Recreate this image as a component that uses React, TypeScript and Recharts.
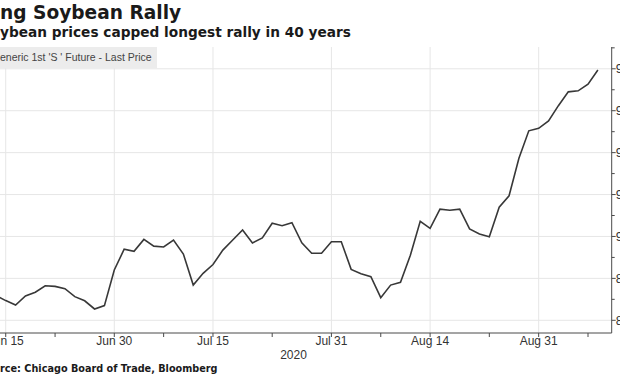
import React from 'react';
import { LineChart, Line, XAxis, YAxis, ReferenceLine } from 'recharts';

// trading days shown (the first one sits just left of the visible frame)
const dates = [
  'Jun 12',
  'Jun 15', 'Jun 16', 'Jun 17', 'Jun 18', 'Jun 19',
  'Jun 22', 'Jun 23', 'Jun 24', 'Jun 25', 'Jun 26',
  'Jun 29', 'Jun 30', 'Jul 1', 'Jul 2',
  'Jul 6', 'Jul 7', 'Jul 8', 'Jul 9', 'Jul 10',
  'Jul 13', 'Jul 14', 'Jul 15', 'Jul 16', 'Jul 17',
  'Jul 20', 'Jul 21', 'Jul 22', 'Jul 23', 'Jul 24',
  'Jul 27', 'Jul 28', 'Jul 29', 'Jul 30', 'Jul 31',
  'Aug 3', 'Aug 4', 'Aug 5', 'Aug 6', 'Aug 7',
  'Aug 10', 'Aug 11', 'Aug 12', 'Aug 13', 'Aug 14',
  'Aug 17', 'Aug 18', 'Aug 19', 'Aug 20', 'Aug 21',
  'Aug 24', 'Aug 25', 'Aug 26', 'Aug 27', 'Aug 28',
  'Aug 31', 'Sep 1', 'Sep 2', 'Sep 3', 'Sep 4',
  'Sep 8', 'Sep 9',
];

// Generic 1st 'S' future, last price (cents/bu)
const prices = [
  871.8,
  869.4, 867.3, 871.6, 873.4, 876.5,
  876.2, 875.1, 871.3, 869.3, 865.4,
  867.0, 884.0, 893.9, 892.9,
  898.6, 895.4, 895.0, 898.3, 891.6,
  876.8, 882.4, 886.6, 893.5, 898.3,
  903.1, 896.9, 899.3, 906.3, 905.1,
  906.6, 897.0, 892.0, 892.0, 897.5,
  897.5, 884.3, 882.2, 880.8, 870.8,
  876.8, 878.1, 891.0, 907.2, 903.9,
  913.0, 912.5, 913.0, 903.6, 901.2,
  899.9, 914.0, 919.4, 937.3, 950.4,
  951.6, 955.1, 962.4, 969.0, 969.5,
  972.7, 979.4,
];

const majorDates = ['Jun 15', 'Jun 30', 'Jul 15', 'Jul 31', 'Aug 14', 'Aug 31'];
const minorDates = ['Jun 22', 'Jul 8', 'Jul 23', 'Aug 7', 'Aug 24', 'Sep 8'];
const priceTicks = [860, 880, 900, 920, 940, 960, 980];
const priceMinorTicks = [870, 890, 910, 930, 950, 970, 990];

const origin = dates.indexOf('Jun 15');
const data = dates.map((d, k) => ({ i: k - origin, date: d, price: prices[k] }));
const idx = (d: string) => dates.indexOf(d) - origin;
const majorIdx = majorDates.map(idx);
const xTicks = [...majorIdx, ...minorDates.map(idx)].sort((a, b) => a - b);

const AXIS = '#4a4a4a';
const GRID = '#e6e6e6';
const LABEL_FONT = '"Liberation Sans", Arial, sans-serif';

function XTick(props: any) {
  const { x, y, payload } = props;
  const k = majorIdx.indexOf(payload.value);
  return (
    <g>
      <line x1={x} x2={x} y1={y} y2={y + 4} stroke={AXIS} />
      {k >= 0 && (
        <text x={x} y={y + 12} textAnchor="middle" fontSize={12} fill="#333" fontFamily={LABEL_FONT}>
          {majorDates[k]}
        </text>
      )}
    </g>
  );
}

function YTick(props: any) {
  const { x, y, payload } = props;
  const major = priceTicks.includes(payload.value);
  return (
    <g>
      <line x1={x} x2={x + (major ? 4 : 3)} y1={y} y2={y} stroke={AXIS} />
      {major && (
        <text x={x + 4} y={y + 4.5} textAnchor="start" fontSize={12.5} fill="#333" fontFamily={LABEL_FONT}>
          {payload.value}
        </text>
      )}
    </g>
  );
}

export default function App() {
  return (
    <div style={{ position: 'fixed', left: 0, top: 0, width: 620, height: 375, overflow: 'hidden', background: '#fff' }}>
      <div style={{ position: 'absolute', left: 0, top: 0 }}>
        <LineChart width={700} height={375} data={data} margin={{ top: 47, right: 0, bottom: 0, left: 0 }}>
          {majorIdx.map((v) => (
            <ReferenceLine key={'vx' + v} x={v} stroke={GRID} strokeWidth={1} />
          ))}
          {priceTicks.map((v) => (
            <ReferenceLine key={'hy' + v} y={v} stroke={GRID} strokeWidth={1} />
          ))}
          <XAxis
            dataKey="i"
            type="number"
            domain={[-0.58, 61.4]}
            allowDataOverflow
            ticks={xTicks}
            interval={0}
            height={42}
            tickSize={0}
            tickMargin={0}
            tickLine={false}
            axisLine={{ stroke: AXIS }}
            tick={<XTick />}
          />
          <YAxis
            orientation="right"
            type="number"
            domain={[853.94, 990.4]}
            allowDataOverflow
            ticks={[...priceTicks, ...priceMinorTicks].sort((a, b) => a - b)}
            interval={0}
            width={88.3}
            tickSize={0}
            tickMargin={0}
            tickLine={false}
            axisLine={{ stroke: AXIS }}
            tick={<YTick />}
          />
          <Line
            type="linear"
            dataKey="price"
            stroke="#383838"
            strokeWidth={1.6}
            dot={false}
            activeDot={false}
            isAnimationActive={false}
          />
        </LineChart>
      </div>
      <div style={{ position: 'absolute', left: 0, top: 4.4, fontFamily: '"DejaVu Sans", sans-serif', fontWeight: 'bold', fontSize: 18.6, lineHeight: 1, color: '#1a1a1a', whiteSpace: 'nowrap' }}>
        ng Soybean Rally
      </div>
      <div style={{ position: 'absolute', left: 0, top: 25.7, fontFamily: '"DejaVu Sans", sans-serif', fontWeight: 'bold', fontSize: 13.7, lineHeight: 1, color: '#1a1a1a', whiteSpace: 'nowrap' }}>
        ybean prices capped longest rally in 40 years
      </div>
      <div style={{ position: 'absolute', left: 0, top: 46.7, width: 156.7, height: 21.6, background: '#ececec' }}>
        <div style={{ position: 'absolute', left: 0, top: 5.4, fontFamily: LABEL_FONT, fontSize: 10.5, lineHeight: 1, color: '#444', whiteSpace: 'nowrap' }}>
          eneric 1st 'S ' Future - Last Price
        </div>
      </div>
      <div style={{ position: 'absolute', left: 293.5, top: 349.2, transform: 'translateX(-50%)', fontFamily: LABEL_FONT, fontSize: 12, lineHeight: 1, color: '#333' }}>
        2020
      </div>
      <div style={{ position: 'absolute', left: 0, top: 364.1, fontFamily: '"DejaVu Sans", sans-serif', fontWeight: 'bold', fontSize: 9.7, lineHeight: 1, color: '#1a1a1a', whiteSpace: 'nowrap' }}>
        rce: Chicago Board of Trade, Bloomberg
      </div>
    </div>
  );
}
